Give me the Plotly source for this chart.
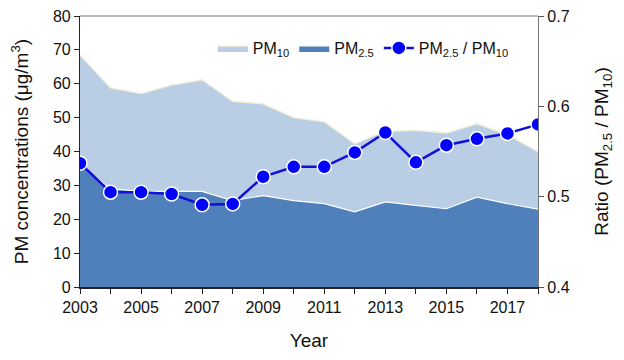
import plotly.graph_objects as go

years = list(range(2003, 2019))
pm10 = [68.5, 58.8, 57.1, 59.6, 61.2, 54.8, 54.1, 50.0, 48.8, 42.3, 46.0, 46.3, 45.5, 48.2, 45.0, 40.0]
pm25 = [36.0, 29.0, 28.2, 28.3, 28.2, 25.5, 27.0, 25.5, 24.6, 22.2, 25.1, 24.1, 23.1, 26.5, 24.6, 23.0]
ratio = [0.537, 0.505, 0.505, 0.503, 0.491, 0.492, 0.522, 0.533, 0.533, 0.549, 0.571, 0.538, 0.557, 0.564, 0.570, 0.580]
tick_years = [2003, 2005, 2007, 2009, 2011, 2013, 2015, 2017]

FONT = "Liberation Sans, Arial, sans-serif"

fig = go.Figure()
fig.add_trace(go.Scatter(
    x=years, y=pm10, name="PM<sub>10</sub>", mode="lines",
    line=dict(color="#f2f0dc", width=1.5), fill="tozeroy", fillcolor="#b9cde5",
))
fig.add_trace(go.Scatter(
    x=years, y=pm25, name="PM<sub>2.5</sub>", mode="lines",
    line=dict(color="#ffffff", width=1.2), fill="tozeroy", fillcolor="#4f80bc",
))
fig.add_trace(go.Scatter(
    x=years, y=ratio, name="PM<sub>2.5</sub> / PM<sub>10</sub>", mode="lines+markers",
    yaxis="y2", line=dict(color="#1010d8", width=2.5),
    marker=dict(color="#0000ff", size=14, line=dict(color="white", width=1.5)),
))

fig.update_layout(
    width=616, height=352,
    margin=dict(l=72, r=86, t=8, b=73, autoexpand=False),
    paper_bgcolor="white", plot_bgcolor="white",
    font=dict(family=FONT, size=16, color="#111"),
    showlegend=True,
    legend=dict(orientation="h", x=0.29, y=0.882, xanchor="left", yanchor="middle",
                bgcolor="rgba(0,0,0,0)", font=dict(size=16), itemwidth=30,
                traceorder="normal"),
    xaxis=dict(
        range=[2003, 2018], tickmode="array", tickvals=years,
        ticktext=[str(y) if y in tick_years else "" for y in years],
        ticks="outside", ticklen=5, tickcolor="#222", showgrid=False,
        showline=True, linecolor="#222", linewidth=1.5, mirror=False,
        zeroline=False, automargin=False, ticklabeloverflow="allow",
        title=dict(text="Year", font=dict(size=19), standoff=19),
    ),
    yaxis=dict(
        range=[0, 80], dtick=10, ticks="outside", ticklen=5, tickcolor="#222",
        showgrid=False, showline=True, linecolor="#222", linewidth=1.2,
        zeroline=False, automargin=False, ticklabeloverflow="allow",
        title=dict(text="PM concentrations (μg/m<sup>3</sup>)", font=dict(size=19), standoff=34),
    ),
    yaxis2=dict(
        range=[0.4, 0.7], dtick=0.1, tickformat=".1f", overlaying="y", side="right",
        ticks="outside", ticklen=5, tickcolor="#555", showgrid=False,
        showline=True, linecolor="#777", linewidth=1.2, zeroline=False, automargin=False,
        ticklabeloverflow="allow",
        title=dict(text="Ratio (PM<sub>2.5</sub> / PM<sub>10</sub>)", font=dict(size=19), standoff=26),
    ),
    shapes=[dict(type="line", xref="paper", yref="paper", x0=0, x1=1, y0=1, y1=1,
                 line=dict(color="#777", width=1.2))],
)

fig.write_html("out.html")
